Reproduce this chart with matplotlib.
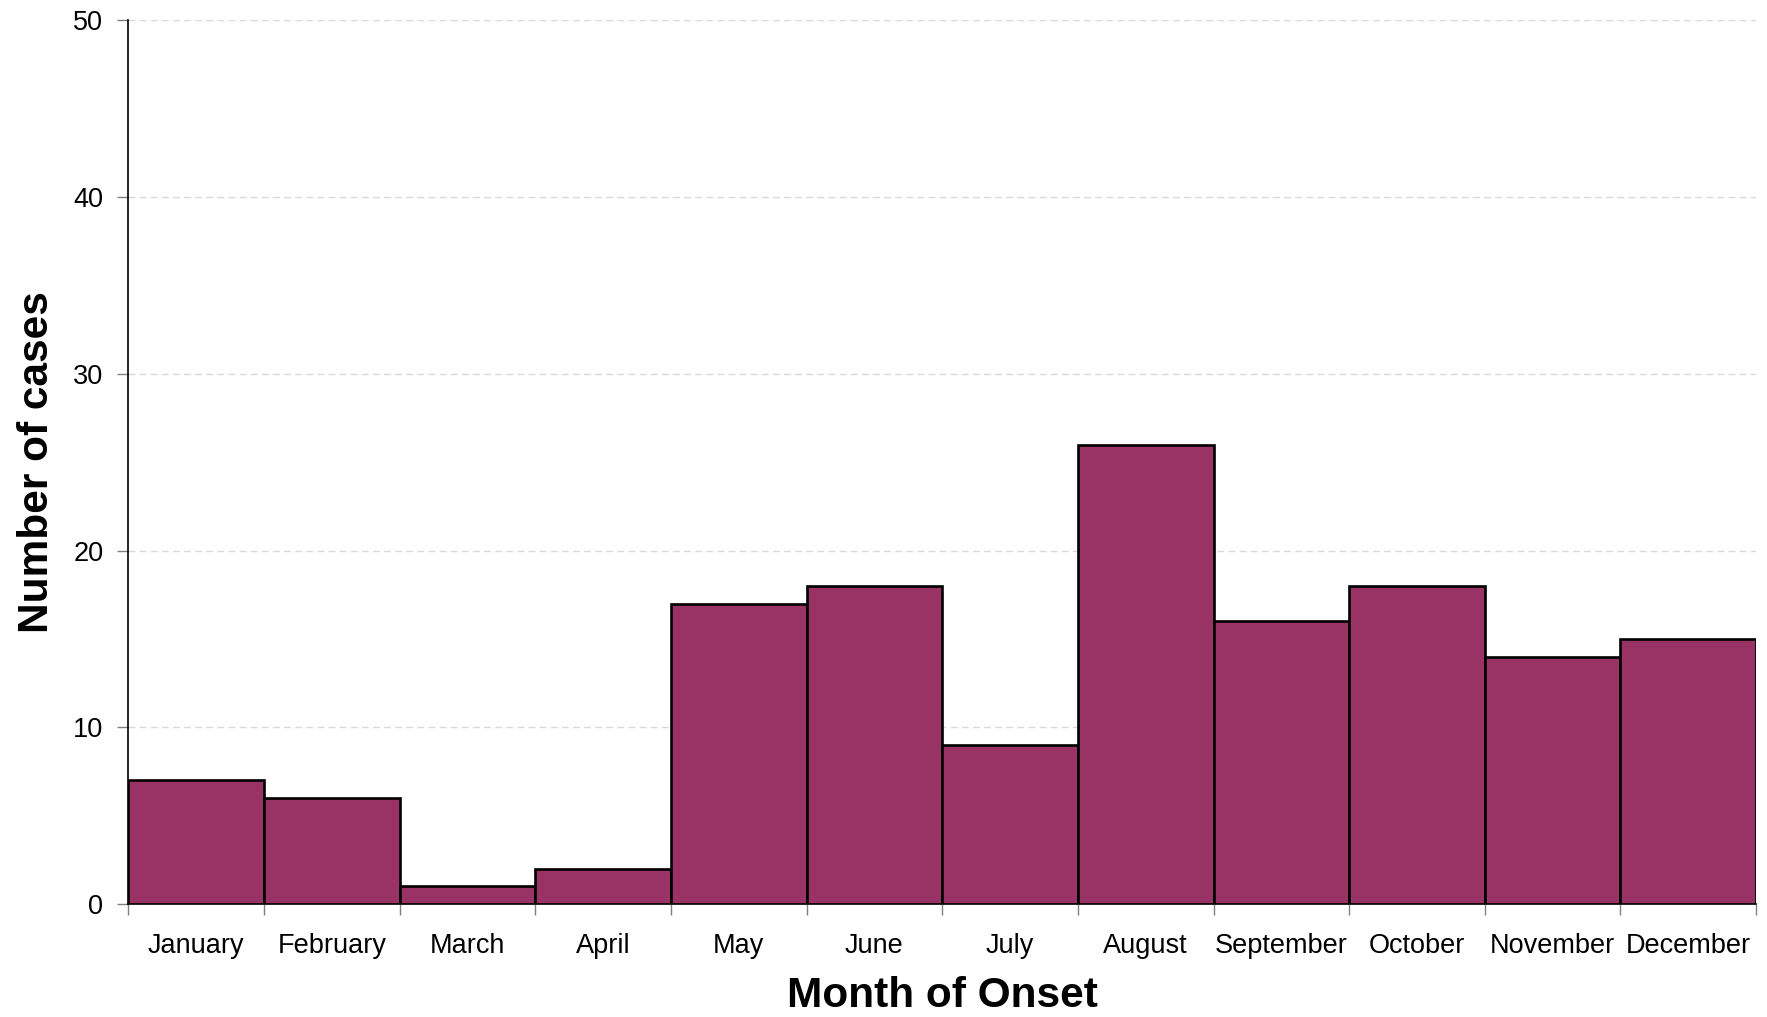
import numpy as np
import matplotlib.pyplot as plt

plt.rcParams['font.family'] = ['Liberation Sans', 'DejaVu Sans']

months = ['January', 'February', 'March', 'April', 'May', 'June',
          'July', 'August', 'September', 'October', 'November', 'December']
cases = [7, 6, 1, 2, 17, 18, 9, 26, 16, 18, 14, 15]
yticks = [0, 10, 20, 30, 40, 50]

fig = plt.figure(figsize=(17.67, 10.17), dpi=100)
ax = fig.add_axes([0.0727, 0.1111, 0.9211, 0.8689])

x = np.arange(len(months))
ax.bar(x, cases, width=1.0, color='#993366', edgecolor='black',
       linewidth=1.9, zorder=3)

ax.set_xlim(-0.5, len(months) - 0.5)
ax.set_ylim(0, 50)
ax.set_yticks(yticks)
ax.set_yticklabels([str(v) for v in yticks], fontsize=19.5)

# ticks at bar boundaries, labels centred under the bars
ax.set_xticks(np.arange(len(months) + 1) - 0.5)
ax.set_xticklabels([])
ax.set_xticks(x, minor=True)
ax.set_xticklabels(months, minor=True, fontsize=19.5)
ax.tick_params(axis='x', which='minor', length=0, pad=21)
ax.tick_params(axis='x', which='major', length=8, color='#808080', width=1)
ax.tick_params(axis='y', length=8, color='#808080', width=1, pad=10)

ax.grid(axis='y', linestyle=(0, (5, 3)), color='#d9d9d9', linewidth=1, zorder=0)
for s in ['top', 'right']:
    ax.spines[s].set_visible(False)
ax.spines['left'].set_linewidth(1.2)
ax.spines['bottom'].set_linewidth(1.2)

ax.set_xlabel('Month of Onset', fontsize=30.5, fontweight='bold', labelpad=12)
ax.set_ylabel('Number of cases', fontsize=30.5, fontweight='bold', labelpad=12)

fig.savefig('out.png', dpi=100)
